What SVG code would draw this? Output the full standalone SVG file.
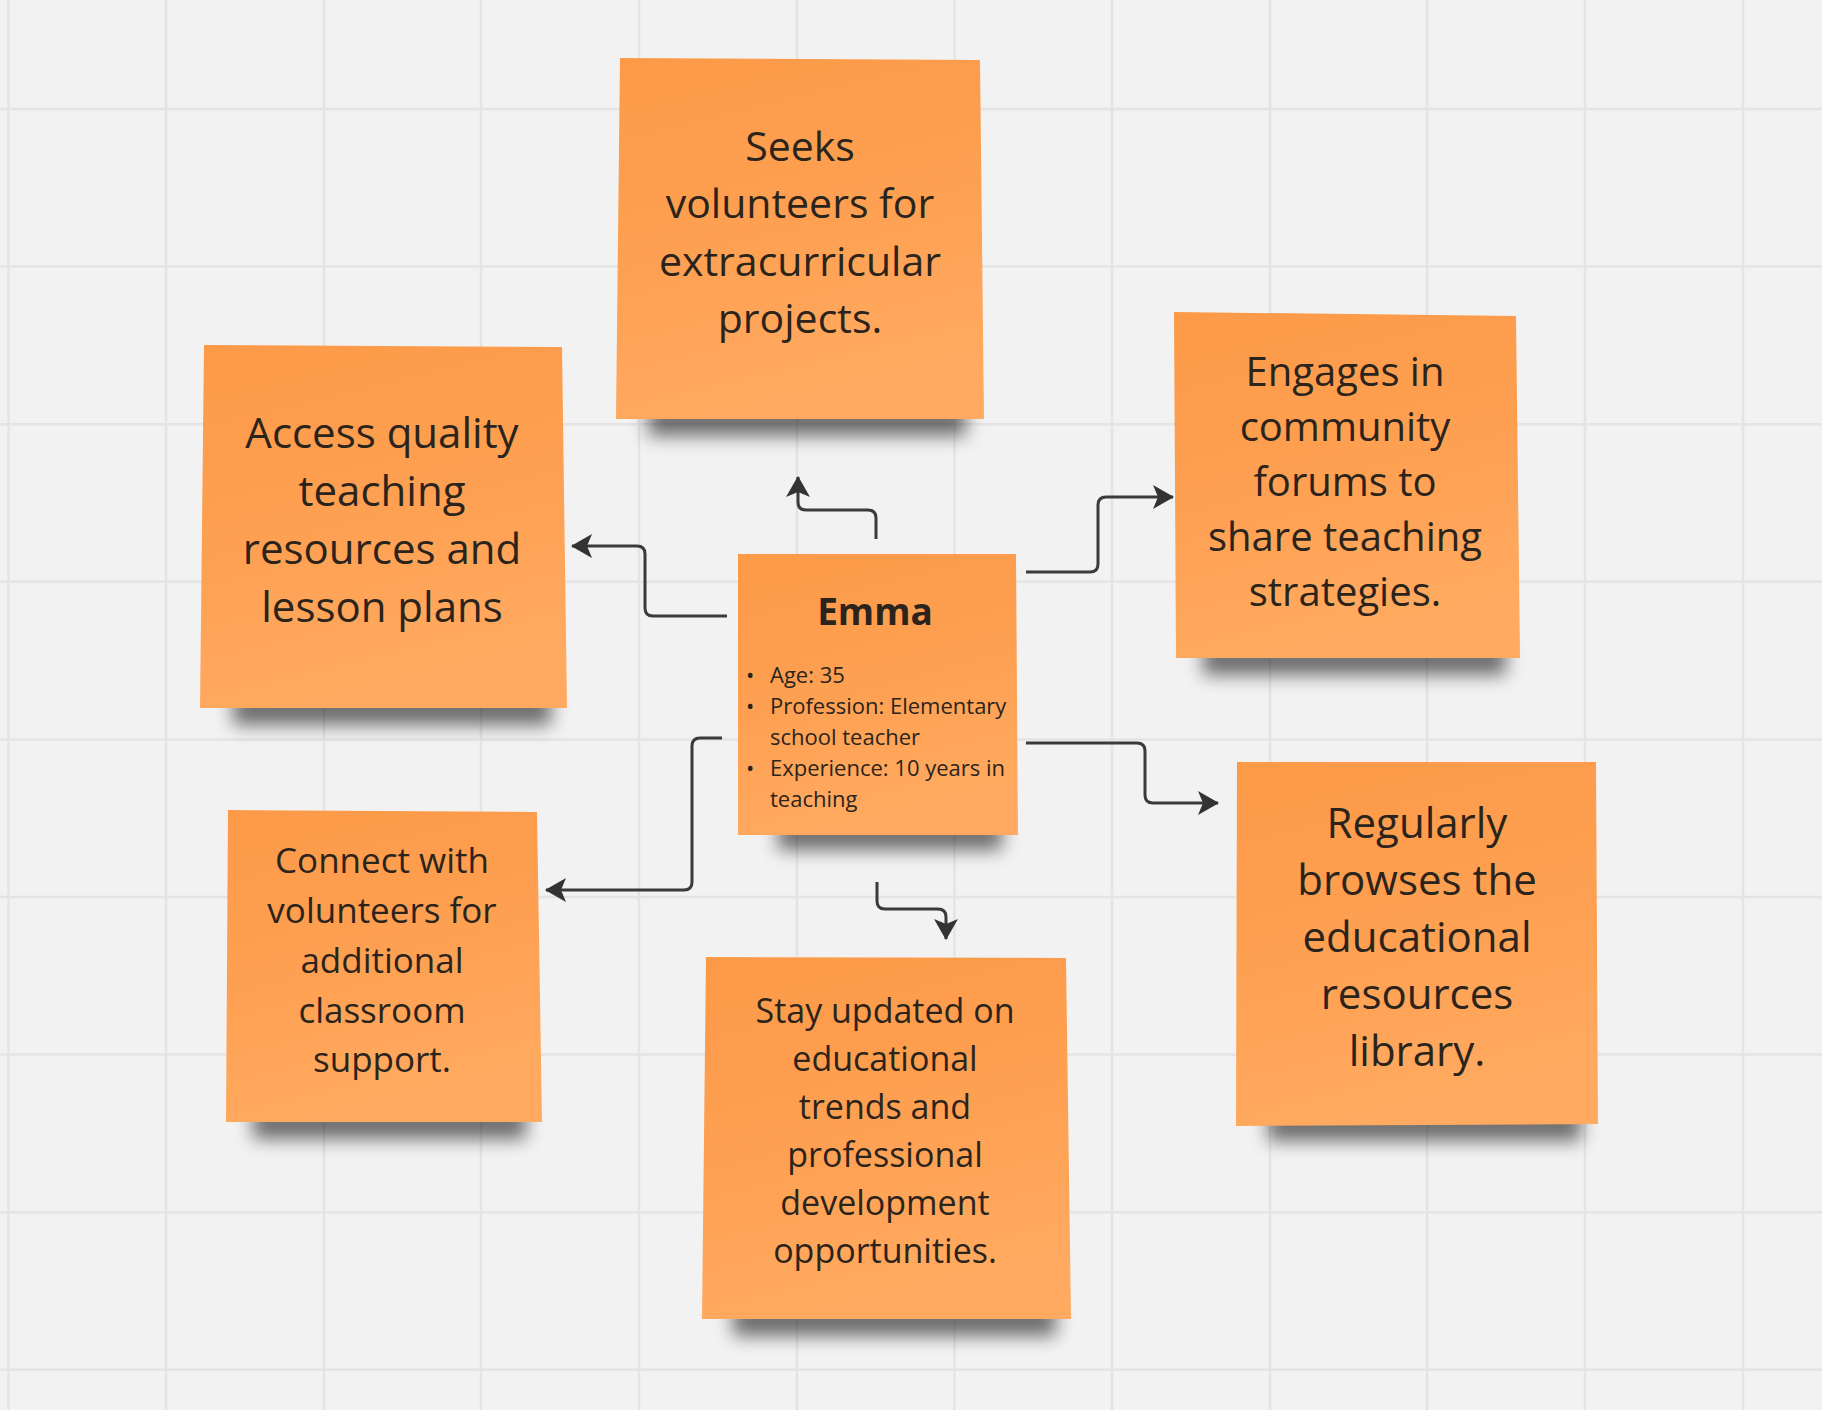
<svg xmlns="http://www.w3.org/2000/svg" width="1822" height="1410" viewBox="0 0 1822 1410">
<defs>
<style>
.grid line{stroke:#e4e4e4;stroke-width:2.5}
.note{fill:url(#stick)}
.shadow{fill:#000;opacity:.55;filter:url(#blur)}
.t{font-family:"Open Sans","Noto Sans","DejaVu Sans",sans-serif;fill:#2b241c;text-anchor:middle}
.b{font-family:"Open Sans","Noto Sans","DejaVu Sans",sans-serif;fill:#2b241c;font-size:22px}
.conn path{fill:none;stroke:#3a3a3a;stroke-width:3;marker-end:url(#arr)}
</style>
<linearGradient id="stick" x1="0" y1="0" x2="0.25" y2="1">
<stop offset="0" stop-color="#fc9a48"/>
<stop offset="0.55" stop-color="#fea052"/>
<stop offset="1" stop-color="#ffaa60"/>
</linearGradient>
<filter id="blur" x="-20%" y="-150%" width="140%" height="400%">
<feGaussianBlur stdDeviation="9"/>
</filter>
<marker id="arr" markerUnits="userSpaceOnUse" markerWidth="24" markerHeight="26" refX="20" refY="12" orient="auto">
<path d="M0,0 L21,12 L0,24 L5,12 Z" fill="#333"/>
</marker>
</defs>
<rect width="1822" height="1410" fill="#f2f2f2"/>
<g class="grid">
<line x1="8.5" y1="0" x2="8.5" y2="1410"/>
<line x1="166" y1="0" x2="166" y2="1410"/>
<line x1="324" y1="0" x2="324" y2="1410"/>
<line x1="481" y1="0" x2="481" y2="1410"/>
<line x1="639" y1="0" x2="639" y2="1410"/>
<line x1="797" y1="0" x2="797" y2="1410"/>
<line x1="954.5" y1="0" x2="954.5" y2="1410"/>
<line x1="1112" y1="0" x2="1112" y2="1410"/>
<line x1="1270" y1="0" x2="1270" y2="1410"/>
<line x1="1427" y1="0" x2="1427" y2="1410"/>
<line x1="1585" y1="0" x2="1585" y2="1410"/>
<line x1="1743" y1="0" x2="1743" y2="1410"/>
<line x1="0" y1="109" x2="1822" y2="109"/>
<line x1="0" y1="266.6" x2="1822" y2="266.6"/>
<line x1="0" y1="424.2" x2="1822" y2="424.2"/>
<line x1="0" y1="581.8" x2="1822" y2="581.8"/>
<line x1="0" y1="739.4" x2="1822" y2="739.4"/>
<line x1="0" y1="897" x2="1822" y2="897"/>
<line x1="0" y1="1054.6" x2="1822" y2="1054.6"/>
<line x1="0" y1="1212.2" x2="1822" y2="1212.2"/>
<line x1="0" y1="1369.8" x2="1822" y2="1369.8"/>
</g>

<g id="connectors" class="conn">
<path d="M876,539 V518 Q876,510 868,510 H806 Q798,510 798,502 V477"/>
<path d="M727,616 H653 Q645,616 645,608 V554 Q645,546 637,546 H572"/>
<path d="M1026,572 H1090 Q1098,572 1098,564 V505 Q1098,497 1106,497 H1173"/>
<path d="M1026,743 H1137 Q1145,743 1145,751 V795 Q1145,803 1153,803 H1218"/>
<path d="M722,738 H700 Q692,738 692,746 V882 Q692,890 684,890 H546"/>
<path d="M877,882 V901 Q877,909 885,909 H938 Q946,909 946,917 V939"/>
</g>

<g id="node-seeks">
<rect class="shadow" x="648" y="404" width="318" height="32"/>
<polygon class="note" points="620,58 980,60 984,419 616,419"/>
<text class="t" font-size="41"><tspan x="800" y="160.5">Seeks</tspan><tspan x="800" y="218">volunteers for</tspan><tspan x="800" y="275.5">extracurricular</tspan><tspan x="800" y="333">projects.</tspan></text>
</g>

<g id="node-access">
<rect class="shadow" x="233" y="693" width="318" height="32"/>
<polygon class="note" points="204,345 562,347 567,708 200,708"/>
<text class="t" font-size="42"><tspan x="382" y="448">Access quality</tspan><tspan x="382" y="506">teaching</tspan><tspan x="382" y="564">resources and</tspan><tspan x="382" y="622">lesson plans</tspan></text>
</g>

<g id="node-engages">
<rect class="shadow" x="1203" y="643" width="303" height="32"/>
<polygon class="note" points="1174,312 1516,316 1520,658 1176,658"/>
<text class="t" font-size="40"><tspan x="1345" y="386">Engages in</tspan><tspan x="1345" y="441">community</tspan><tspan x="1345" y="496">forums to</tspan><tspan x="1345" y="551">share teaching</tspan><tspan x="1345" y="606">strategies.</tspan></text>
</g>

<g id="node-emma">
<rect class="shadow" x="778" y="820" width="224" height="30"/>
<polygon class="note" points="738,554 1016,554 1018,835 738,835"/>
<text class="t" font-size="37" font-weight="700" x="875" y="625">Emma</text>
<text class="b"><tspan x="746" y="683">•</tspan><tspan x="746" y="714">•</tspan><tspan x="746" y="776">•</tspan></text>
<text class="b"><tspan x="770" y="683">Age: 35</tspan><tspan x="770" y="714">Profession: Elementary</tspan><tspan x="770" y="745">school teacher</tspan><tspan x="770" y="776">Experience: 10 years in</tspan><tspan x="770" y="807">teaching</tspan></text>
</g>

<g id="node-regularly">
<rect class="shadow" x="1268" y="1109" width="313" height="32"/>
<polygon class="note" points="1237,762 1596,762 1598,1124 1236,1126"/>
<text class="t" font-size="42"><tspan x="1417" y="838">Regularly</tspan><tspan x="1417" y="895">browses the</tspan><tspan x="1417" y="952">educational</tspan><tspan x="1417" y="1009">resources</tspan><tspan x="1417" y="1066">library.</tspan></text>
</g>

<g id="node-connect">
<rect class="shadow" x="253" y="1107" width="273" height="32"/>
<polygon class="note" points="228,810 537,812 542,1122 226,1122"/>
<text class="t" font-size="35"><tspan x="382" y="873">Connect with</tspan><tspan x="382" y="923">volunteers for</tspan><tspan x="382" y="973">additional</tspan><tspan x="382" y="1023">classroom</tspan><tspan x="382" y="1072">support.</tspan></text>
</g>

<g id="node-stay">
<rect class="shadow" x="733" y="1304" width="323" height="32"/>
<polygon class="note" points="706,957 1066,958 1071,1319 702,1319"/>
<text class="t" font-size="34"><tspan x="885" y="1023">Stay updated on</tspan><tspan x="885" y="1071">educational</tspan><tspan x="885" y="1119">trends and</tspan><tspan x="885" y="1167">professional</tspan><tspan x="885" y="1215">development</tspan><tspan x="885" y="1263">opportunities.</tspan></text>
</g>
</svg>
